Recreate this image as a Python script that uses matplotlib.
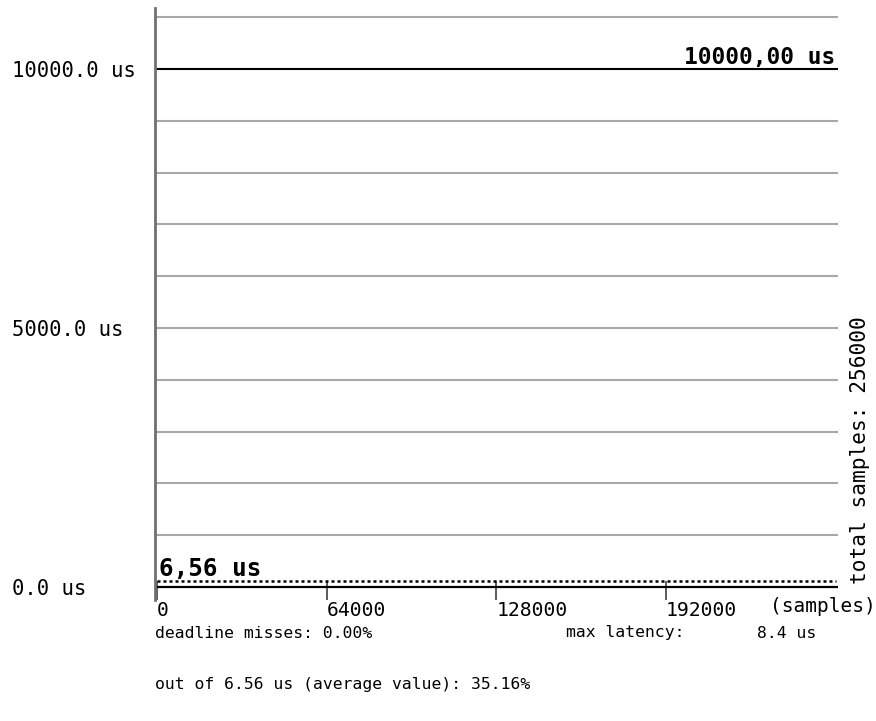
import numpy as np
import matplotlib.pyplot as plt
from matplotlib.transforms import ScaledTranslation

# values
total_samples = 256000
deadline_us = 10000.0
avg_us = 6.56
max_latency_us = 8.4
deadline_miss_pct = 0.00
out_of_avg_pct = 35.16
x_ticks = [0, 64000, 128000, 192000]
y_ticks = [0, 5000, 10000]
y_tick_labels = ['0.0 us', '5000.0 us', '10000.0 us']
grid_levels = [1000, 2000, 3000, 4000, 5000, 6000, 7000, 8000, 9000, 11000]

plt.rcParams['font.family'] = ['DejaVu Sans Mono']

W, H = 876, 721
fig = plt.figure(figsize=(W / 100, H / 100), dpi=100)
# axes box in pixels: left 155, right 838, top 8, bottom 600
ax = fig.add_axes([155 / W, 1 - 600 / H, (838 - 155) / W, (600 - 8) / H])

px_per_us = 518 / 10000.0
ax.set_ylim(-13 / px_per_us, 579 / px_per_us)
px_per_sample = 509 / 192000.0
ax.set_xlim(-2 / px_per_sample, 681 / px_per_sample)

# grid lines
for g in grid_levels:
    ax.axhline(g, color='#a8a8a8', linewidth=1.5, zorder=1)
ax.axhline(0, color='black', linewidth=1.6, zorder=2)
ax.axhline(deadline_us, color='black', linewidth=1.5, zorder=2)

# sample line (average latency), drawn a few pixels above the baseline
off = ScaledTranslation(0, 6 / 100, fig.dpi_scale_trans)
ax.plot([0, total_samples], [avg_us, avg_us], color='black', linestyle=(0, (1.2, 1.2)),
        linewidth=1.8, transform=ax.transData + off, zorder=3)

ax.text(2 / px_per_sample, avg_us, '6,56 us', fontsize=17.5, fontweight='bold',
        ha='left', va='bottom', transform=ax.transData + ScaledTranslation(0, 6 / 100, fig.dpi_scale_trans))
ax.text(total_samples, deadline_us, '10000,00 us', fontsize=16.5, fontweight='bold',
        ha='right', va='bottom')

# spines
for s in ['top', 'right', 'bottom']:
    ax.spines[s].set_visible(False)
ax.spines['left'].set_color('#707070')
ax.spines['left'].set_linewidth(2)

# y ticks
ax.set_yticks(y_ticks)
ax.set_yticklabels(y_tick_labels, fontsize=14.8, ha='left')
ax.tick_params(axis='y', length=0, pad=103)

# x ticks
ax.set_xticks(x_ticks)
ax.set_xticklabels([str(t) for t in x_ticks], fontsize=14.2, ha='left')
ax.tick_params(axis='x', direction='in', length=13.5, width=1.2, color='#404040', pad=0.5)

fig.text(770 / W, 1 - 606 / H, '(samples)', fontsize=14, ha='left', va='center')
fig.text(860 / W, 1 - 584 / H, 'total samples: %d' % total_samples, fontsize=15.2,
         rotation=90, ha='center', va='bottom')

fig.text(155 / W, 1 - 633 / H, 'deadline misses: %.2f%%' % deadline_miss_pct,
         fontsize=11.8, ha='left', va='center')
fig.text(566 / W, 1 - 633 / H, 'max latency:', fontsize=11.8, ha='left', va='center')
fig.text(787 / W, 1 - 633 / H, '%.1f us' % max_latency_us, fontsize=11.8, ha='center', va='center')
fig.text(155 / W, 1 - 684 / H, 'out of %.2f us (average value): %.2f%%' % (avg_us, out_of_avg_pct),
         fontsize=11.8, ha='left', va='center')

fig.savefig('out.png', dpi=100)
